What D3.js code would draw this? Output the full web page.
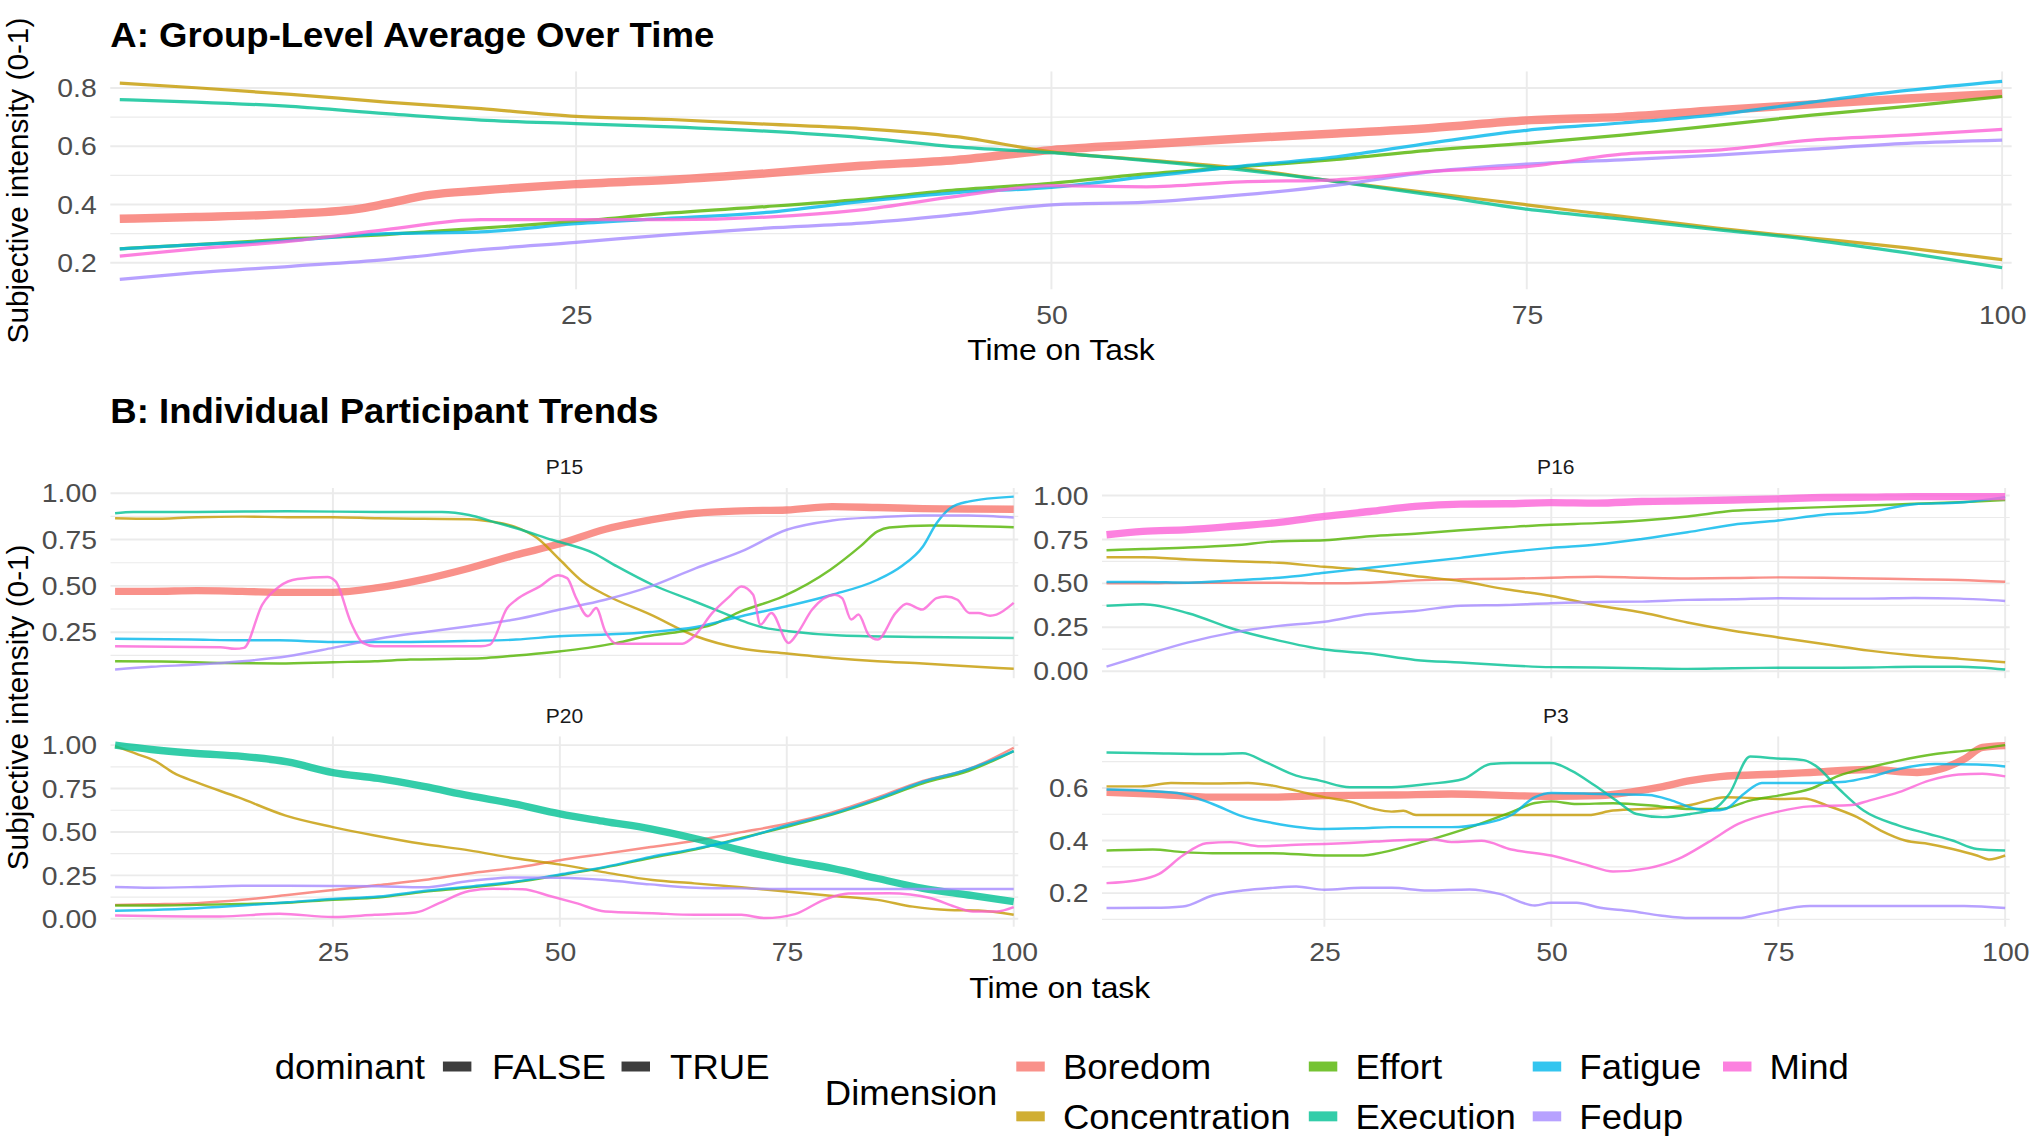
<!DOCTYPE html>
<meta charset="utf-8">
<head>
    <title>Subjective intensity over time</title>
    <!-- load the d3.js library -->
    <script src="https://d3js.org/d3.v7.min.js"></script>
</head>

<style> /* set the CSS */
body { margin: 0; background: #ffffff; }
svg text { font-family: "Liberation Sans", Arial, Helvetica, sans-serif; }
</style>

<body>

<svg></svg>

<script>

// dimensions and their ggplot hue colours
let dims = ["Boredom", "Concentration", "Effort", "Execution", "Fatigue", "Fedup", "Mind"];
let colors = ["#F8766D", "#C49A00", "#53B400", "#00C094", "#00B6EB", "#A58AFF", "#FB61D7"];

// shared time points for the regular series
let timeGrid = [1, 5, 10, 15, 20, 25, 30, 35, 40, 45, 50, 55, 60, 65, 70, 75, 80, 85, 90, 95, 100];
let xTicks = [25, 50, 75, 100];
let unitTicks = [0, 0.25, 0.5, 0.75, 1];
let unitMinor = [0.125, 0.375, 0.625, 0.875];
let tenthTicks = [0.2, 0.4, 0.6, 0.8];
let tenthMinor = [0.1, 0.3, 0.5, 0.7];
let facetNames = ["P15", "P16", "P20", "P3"];
let dominantA = "Boredom";
let dominantFacets = ["Boredom", "Mind", "Execution", "Boredom"];

// A: group-level average
let aBoredom = [[1,.351],[5,.357],[10,.368],[13.8,.388],[15,.403],[17.3,.433],[20,.448],[25,.470],[30,.485],[35,.507],[40,.533],[45,.553],[50,.587],[55,.607],[60,.627],[65,.644],[70,.663],[75,.689],[80,.701],[85,.724],[90,.744],[95,.764],[100,.781]];
let aConcentration = [.817,.801,.778,.752,.729,.703,.692,.676,.661,.633,.581,.553,.524,.479,.439,.399,.359,.319,.285,.251,.211];
let aEffort = [.248,.262,.282,.297,.319,.342,.371,.393,.418,.450,.473,.505,.530,.555,.587,.610,.638,.672,.707,.737,.771];
let aExecution = [.760,.752,.737,.712,.690,.678,.667,.652,.630,.598,.578,.551,.519,.479,.433,.384,.350,.314,.279,.234,.183];
let aFatigue = [.248,.262,.277,.300,.306,.334,.353,.373,.410,.441,.459,.496,.532,.564,.612,.655,.680,.709,.752,.792,.823];
let aFedup = [.143,.166,.188,.211,.245,.270,.297,.319,.336,.365,.399,.408,.433,.467,.513,.539,.553,.570,.590,.610,.621];
let aMind = [.223,.248,.274,.314,.348,.348,.348,.357,.382,.428,.465,.461,.478,.485,.514,.530,.573,.587,.621,.638,.658];

// B: participant P15
let p15Boredom = [.470,.470,.474,.470,.465,.465,.490,.535,.595,.665,.727,.806,.856,.892,.905,.910,.928,.923,.917,.915,.914];
let p15Concentration = [[1,.865],[5,.862],[10,.871],[15,.874],[20,.871],[25,.871],[30,.865],[35,.862],[40,.860],[42.5,.847],[45,.820],[47.5,.758],[50,.641],[52.5,.524],[55,.452],[60,.345],[65,.228],[70,.162],[75,.135],[80,.111],[85,.093],[90,.081],[95,.066],[100,.052]];
let p15Effort = [[1,.093],[6.1,.092],[12.6,.084],[19.1,.081],[25,.088],[29.6,.093],[33.5,.102],[38.7,.106],[41.9,.111],[45.2,.124],[49.1,.142],[53.1,.165],[56.3,.192],[59.6,.228],[63.5,.255],[66.8,.291],[70,.363],[74.6,.443],[79.8,.587],[83.1,.713],[85,.794],[86.3,.815],[90.9,.826],[100,.817]];
let p15Execution = [[1,.892],[3,.899],[10,.899],[20,.903],[30,.899],[37,.899],[40,.883],[42.6,.847],[45.2,.811],[49.1,.749],[53.7,.677],[56.3,.605],[60.2,.506],[64.8,.417],[68,.354],[70.7,.300],[72.6,.273],[75.2,.255],[81,.232],[90,.224],[100,.219]];
let p15Fatigue = [[1,.215],[9.4,.210],[15.2,.206],[19.1,.206],[25,.197],[32.2,.197],[40,.203],[45.2,.210],[49.9,.228],[55,.237],[60,.251],[65,.278],[70,.336],[75,.390],[80,.452],[85,.533],[87.6,.605],[90,.713],[91.5,.838],[93,.919],[95,.955],[100,.982]];
let p15Fedup = [.048,.063,.075,.093,.120,.165,.214,.250,.282,.318,.372,.425,.497,.596,.686,.803,.853,.871,.880,.880,.869];
let p15Mind = [[1,.174],[12.6,.169],[14.2,.160],[15.2,.165],[17.2,.398],[19.1,.497],[21.1,.537],[24.4,.548],[25.3,.524],[27,.300],[28.3,.192],[29.6,.174],[41.3,.174],[42.3,.183],[44.2,.380],[45.2,.425],[47.8,.497],[49.8,.557],[50.8,.542],[51.8,.434],[53.1,.336],[54,.380],[55,.255],[56.3,.188],[63.5,.188],[64.8,.228],[66.8,.354],[68.7,.443],[70,.497],[71.3,.452],[72.1,.291],[73.3,.354],[75.2,.192],[76.2,.246],[77.8,.372],[80.3,.452],[81.1,.434],[82.1,.318],[82.9,.345],[84,.237],[85,.210],[87,.354],[88.2,.404],[89.9,.372],[91.5,.434],[92.5,.443],[93.8,.425],[95.1,.354],[96.1,.354],[97.4,.339],[98.1,.345],[100,.408]];

// B: participant P16
let p16Boredom = [.500,.500,.504,.504,.504,.500,.504,.517,.523,.526,.532,.538,.532,.528,.530,.534,.532,.528,.523,.519,.509];
let p16Concentration = [.649,.649,.636,.626,.617,.594,.575,.542,.513,.466,.428,.375,.334,.277,.230,.192,.155,.117,.089,.070,.051];
let p16Effort = [.689,.696,.704,.717,.740,.745,.768,.783,.802,.819,.834,.843,.858,.881,.913,.925,.934,.943,.953,.962,.975];
let p16Execution = [.372,.381,.330,.240,.174,.123,.100,.064,.049,.034,.023,.021,.017,.013,.017,.019,.019,.021,.025,.025,.009];
let p16Fatigue = [.508,.508,.504,.517,.532,.560,.589,.617,.645,.677,.702,.721,.753,.791,.834,.858,.891,.906,.951,.960,.991];
let p16Fedup = [.026,.089,.164,.221,.258,.281,.325,.343,.372,.377,.387,.394,.396,.406,.409,.415,.413,.413,.417,.413,.400];
let p16Mind = [.777,.796,.806,.825,.847,.881,.909,.938,.951,.953,.960,.957,.966,.970,.975,.981,.989,.991,.994,.994,.994];

// B: participant P20
let p20Boredom = [.080,.084,.090,.109,.137,.166,.194,.223,.261,.293,.337,.375,.413,.451,.499,.547,.613,.699,.794,.861,.985];
let p20Concentration = [[1,.994],[3.5,.947],[5.4,.909],[7.4,.842],[10,.785],[14.6,.699],[19.8,.594],[25,.528],[29.6,.480],[34.8,.432],[40,.394],[45.2,.347],[50.1,.312],[55,.267],[60.2,.223],[64.8,.204],[70,.181],[75.2,.156],[79.8,.133],[85,.109],[88.9,.070],[92.8,.051],[96.1,.048],[100,.023]];
let p20Effort = [.076,.076,.080,.085,.092,.110,.122,.155,.180,.210,.251,.296,.350,.400,.465,.530,.600,.685,.780,.851,.966];
let p20Execution = [1.000,.975,.952,.935,.903,.842,.808,.762,.709,.661,.604,.560,.518,.461,.394,.337,.290,.232,.175,.137,.099];
let p20Fatigue = [.046,.051,.061,.076,.095,.114,.128,.160,.185,.213,.255,.299,.356,.404,.461,.537,.604,.690,.789,.861,.966];
let p20Fedup = [.183,.179,.183,.190,.190,.189,.187,.181,.217,.238,.236,.223,.198,.179,.175,.171,.171,.171,.171,.171,.171];
let p20Mind = [[1,.019],[12.6,.013],[19.1,.029],[25,.010],[29.6,.023],[34.1,.036],[36.7,.090],[40,.160],[42.6,.173],[45.9,.170],[49.1,.128],[51.8,.090],[55,.042],[60.2,.032],[64.8,.023],[70,.023],[72.6,.004],[75.9,.027],[79.1,.109],[81.8,.145],[86.3,.147],[90.9,.118],[93.5,.070],[95.5,.042],[98.1,.042],[100,.067]];

// B: participant P3
let p3Boredom = [[1,.584],[6.1,.577],[12.7,.565],[19.3,.565],[25,.571],[32.4,.573],[39,.577],[45.6,.571],[50,.568],[55.4,.571],[58.7,.584],[62,.603],[65.3,.628],[68.6,.643],[75,.653],[78.5,.659],[85,.670],[90.3,.659],[92.9,.672],[95.5,.710],[97.5,.754],[100,.761]];
let p3Concentration = [[1,.606],[4.8,.606],[8.1,.619],[12.7,.617],[16.6,.619],[19.3,.609],[21.9,.590],[25,.565],[27.8,.548],[30.5,.520],[32.4,.510],[33.7,.513],[35.1,.497],[39,.497],[50,.497],[54.1,.497],[56.8,.514],[62,.523],[65.3,.535],[69.2,.565],[71.9,.562],[75.2,.558],[77.8,.560],[80.4,.533],[83.7,.489],[86.3,.438],[89,.400],[91.6,.387],[94.2,.368],[96.9,.343],[98.2,.328],[100,.343]];
let p3Effort = [[1,.362],[6.1,.366],[9.4,.356],[12.7,.352],[19.3,.352],[25,.343],[29.1,.343],[30.5,.349],[35.7,.394],[41.6,.457],[45.6,.508],[48.2,.543],[50,.549],[52.8,.539],[56.8,.542],[62,.530],[65.3,.520],[68.6,.520],[71.9,.552],[75,.571],[78.5,.596],[81.7,.647],[85,.678],[88.3,.704],[92.3,.729],[96.2,.744],[100,.763]];
let p3Execution = [[1,.735],[6.1,.732],[12.7,.729],[16,.732],[18.6,.697],[21.9,.647],[24.5,.628],[27.8,.603],[32.4,.603],[36.4,.615],[40.3,.634],[43.3,.691],[45.6,.695],[50,.695],[52.2,.666],[54.8,.609],[57.4,.546],[59.4,.501],[62.3,.489],[65.3,.501],[67.9,.520],[69.6,.577],[71.9,.720],[74.5,.713],[77.8,.706],[79.1,.685],[81.7,.596],[84.4,.514],[88.3,.457],[91.6,.425],[94.2,.400],[96.9,.368],[100,.362]];
let p3Fatigue = [[1,.594],[4.8,.590],[8.8,.581],[12.7,.539],[16,.492],[19.3,.467],[25,.444],[29.1,.447],[32.4,.451],[39,.451],[42.3,.463],[45.6,.497],[48.2,.565],[50,.581],[55.4,.577],[60.7,.573],[63.3,.552],[66,.520],[67.9,.514],[69.2,.520],[71.2,.577],[73.2,.619],[78.5,.619],[82.4,.624],[85,.641],[88.3,.672],[92.3,.691],[96.9,.689],[100,.682]];
let p3Fedup = [[1,.143],[6.1,.144],[9.4,.149],[12.7,.191],[16,.210],[19.3,.220],[21.9,.225],[25,.213],[29.1,.220],[32.4,.220],[36.4,.210],[41,.214],[44.3,.197],[48.2,.153],[50,.163],[52.8,.163],[55.4,.144],[58.7,.132],[62,.115],[65.3,.105],[70.6,.105],[73.2,.122],[78.5,.151],[85,.151],[91.6,.151],[95.5,.151],[100,.143]];
let p3Mind = [[1,.238],[4.2,.248],[6.8,.273],[9.4,.343],[12,.390],[14.7,.394],[18,.378],[21.9,.384],[25,.387],[27.8,.391],[30.5,.396],[34.4,.403],[37,.404],[39,.394],[42.3,.399],[45.6,.366],[50,.343],[54.1,.305],[56.8,.282],[60.7,.295],[64,.330],[67.3,.394],[70.6,.463],[75,.510],[78.5,.530],[83.1,.535],[85,.552],[88.3,.584],[91.6,.628],[94.9,.651],[97.5,.654],[100,.644]];

// the picture was widened a little, so text is stretched sideways
let stretch = 1.07;
let W = 1568, H = 880;

let svg = d3.select("svg")
    .attr("width", 2030)
    .attr("height", 1139)
    .attr("viewBox", "0 0 " + W + " " + H);

svg.append("rect").attr("width", W).attr("height", H).attr("fill", "#ffffff");

// regular series get the shared time grid
function toPoints(arr) {
  return typeof arr[0] === "number" ? arr.map((v, i) => [timeGrid[i], v]) : arr;
}

function label(str, x, y, size, opts) {
  opts = opts || {};
  let t = svg.append("text")
    .attr("transform", "translate(" + x + "," + y + ")" +
          (opts.rotate ? " rotate(-90)" : " scale(" + stretch + ",1)"))
    .attr("font-size", size)
    .attr("fill", opts.fill || "#000000")
    .attr("text-anchor", opts.anchor || "start")
    .text(str);
  if (opts.bold) t.attr("font-weight", "bold");
  return t;
}

function drawPanel(p) {
  let data = p.series.map(toPoints);
  let values = data.flat().map(d => d[1]);
  let lo = d3.min(values), hi = d3.max(values), pad = (hi - lo) * 0.05;

  // set the ranges
  let x = d3.scaleLinear().domain([0.5, 100.5]).range([p.left, p.right]);
  let y = d3.scaleLinear().domain([lo - pad, hi + pad]).range([p.bottom, p.top]);
  let inY = v => v >= y.domain()[0] && v <= y.domain()[1];

  let g = svg.append("g");

  // grid
  g.selectAll(".minor").data(p.minor.filter(inY)).join("line")
    .attr("x1", p.left).attr("x2", p.right)
    .attr("y1", d => y(d)).attr("y2", d => y(d))
    .attr("stroke", "#ebebeb").attr("stroke-width", 0.9);
  g.selectAll(".major").data(p.ticks.filter(inY)).join("line")
    .attr("x1", p.left).attr("x2", p.right)
    .attr("y1", d => y(d)).attr("y2", d => y(d))
    .attr("stroke", "#ebebeb").attr("stroke-width", 1.5);
  g.selectAll(".vmajor").data(xTicks).join("line")
    .attr("x1", d => x(d)).attr("x2", d => x(d))
    .attr("y1", p.top).attr("y2", p.bottom)
    .attr("stroke", "#ebebeb").attr("stroke-width", 1.5);

  // lines, in factor order so later ones sit on top
  let line = d3.line()
    .x(d => x(d[0]))
    .y(d => y(d[1]))
    .curve(d3.curveMonotoneX);

  data.forEach((d, i) => {
    g.append("path")
      .attr("d", line(d))
      .attr("fill", "none")
      .attr("stroke", colors[i])
      .attr("stroke-opacity", 0.8)
      .attr("stroke-width", dims[i] === p.dominant ? p.thick : p.thin)
      .attr("stroke-linejoin", "round");
  });

  // y axis
  let ya = g.append("g")
    .attr("transform", "translate(" + p.left + ",0)")
    .call(d3.axisLeft(y).tickValues(p.ticks.filter(inY)).tickFormat(d3.format(p.fmt)).tickSize(0).tickPadding(9.8));
  ya.select(".domain").remove();
  ya.selectAll("text")
    .attr("font-size", 20.5)
    .attr("fill", "#4d4d4d")
    .attr("font-family", "Liberation Sans, Arial, sans-serif")
    .attr("transform", "scale(" + stretch + ",1)");

  // x axis
  if (p.showX) {
    let xa = g.append("g")
      .attr("transform", "translate(0," + p.bottom + ")")
      .call(d3.axisBottom(x).tickValues(xTicks).tickFormat(d3.format("d")).tickSize(0).tickPadding(12));
    xa.select(".domain").remove();
    xa.selectAll("text")
      .attr("font-size", 20.5)
      .attr("fill", "#4d4d4d")
      .attr("font-family", "Liberation Sans, Arial, sans-serif")
      .attr("transform", "scale(" + stretch + ",1)");
  }
}

// ---- A: group level ----
label("A: Group-Level Average Over Time", 85, 36.5, 26.4, {bold: true});

drawPanel({
  left: 85, right: 1554, top: 55.2, bottom: 223.5,
  series: [aBoredom, aConcentration, aEffort, aExecution, aFatigue, aFedup, aMind],
  dominant: dominantA, ticks: tenthTicks, minor: tenthMinor, fmt: ".1f",
  showX: true, thin: 2.5, thick: 6.5
});

label("Time on Task", 819.5, 278.5, 23, {anchor: "middle"});
label("Subjective intensity (0-1)", 21.5, 139.5, 23, {anchor: "middle", rotate: true});

// ---- B: individual facets ----
label("B: Individual Participant Trends", 85, 326.5, 26.4, {bold: true});

let cols = [[85.2, 786.5], [851.2, 1552.5]];
let rows = [[377, 524], [569, 716]];
let facetSeries = [
  [p15Boredom, p15Concentration, p15Effort, p15Execution, p15Fatigue, p15Fedup, p15Mind],
  [p16Boredom, p16Concentration, p16Effort, p16Execution, p16Fatigue, p16Fedup, p16Mind],
  [p20Boredom, p20Concentration, p20Effort, p20Execution, p20Fatigue, p20Fedup, p20Mind],
  [p3Boredom, p3Concentration, p3Effort, p3Execution, p3Fatigue, p3Fedup, p3Mind]
];

facetNames.forEach((name, k) => {
  let c = cols[k % 2], r = rows[Math.floor(k / 2)];
  let isP3 = name === "P3";
  drawPanel({
    left: c[0], right: c[1], top: r[0], bottom: r[1],
    series: facetSeries[k], dominant: dominantFacets[k],
    ticks: isP3 ? tenthTicks : unitTicks,
    minor: isP3 ? tenthMinor : unitMinor,
    fmt: isP3 ? ".1f" : ".2f",
    showX: k >= 2, thin: 1.9, thick: 5.7
  });
  label(name, (c[0] + c[1]) / 2, r[0] - 10.6, 15.2, {anchor: "middle", fill: "#1a1a1a"});
});

label("Time on task", 818.5, 771, 23, {anchor: "middle"});
label("Subjective intensity (0-1)", 21.5, 546.5, 23, {anchor: "middle", rotate: true});

// ---- legends ----
let keyLen = 22, keyWidth = 7.7;

label("dominant", 212, 833.5, 26.4);
let domKeys = [{name: "FALSE", key: 342, text: 380}, {name: "TRUE", key: 480, text: 517.5}];
domKeys.forEach(d => {
  svg.append("line")
    .attr("x1", d.key).attr("x2", d.key + keyLen)
    .attr("y1", 824).attr("y2", 824)
    .attr("stroke", "#333333").attr("stroke-opacity", 0.95)
    .attr("stroke-width", keyWidth);
  label(d.name, d.text, 833.5, 26.4);
});

label("Dimension", 637, 853.5, 26.4);
let legendCols = [785, 1011, 1184, 1331];
let legendRows = [824, 862.5];
dims.forEach((name, i) => {
  let kx = legendCols[Math.floor(i / 2)];
  let ky = legendRows[i % 2];
  svg.append("line")
    .attr("x1", kx).attr("x2", kx + keyLen)
    .attr("y1", ky).attr("y2", ky)
    .attr("stroke", colors[i]).attr("stroke-opacity", 0.8)
    .attr("stroke-width", keyWidth);
  label(name, kx + keyLen + 14, ky + 9.6, 26.4);
});

</script>

</body>
